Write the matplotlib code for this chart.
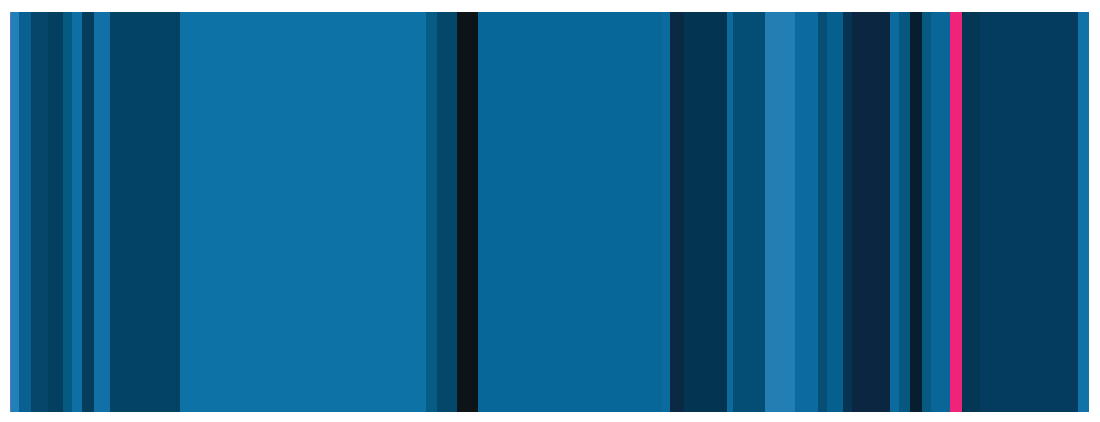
import matplotlib
matplotlib.use("Agg")
import numpy as np
import matplotlib.pyplot as plt

# stripe widths (in plot units) and colours, left to right
widths = [1, 8, 12, 17, 15, 9, 10, 12, 16, 66, 4, 246, 11, 20, 21, 184, 8,
          14, 43, 6, 32, 30, 23, 9, 16, 9, 38, 9, 11, 12, 9, 19, 12, 18, 98, 11]
colors = ["#6370c4", "#2080b8", "#0a6090", "#05466a", "#033f5e", "#065a82",
          "#0d6fa3", "#053e5c", "#1170a5", "#034466", "#044264", "#0d72a5",
          "#065c82", "#03476b", "#0c1417", "#076799", "#0b6a9e", "#0a2a44",
          "#033552", "#0b6a9e", "#044e76", "#237eb3", "#0c6aa0", "#064e73",
          "#06608f", "#063452", "#0b2641", "#0b6a9f", "#075880", "#061e2e",
          "#065a82", "#0a6699", "#f0237a", "#033753", "#033c5e", "#0f72a8"]

starts = np.concatenate([[0], np.cumsum(widths)[:-1]])
total = sum(widths)

fig = plt.figure(figsize=(11, 4.22), dpi=100)
ax = fig.add_axes([10 / 1100, 1 - 412 / 422, 1079 / 1100, 400 / 422])

ax.bar(starts, [1] * len(widths), width=widths, align="edge",
       color=colors, edgecolor="none", linewidth=0)

ax.set_xlim(0, total)
ax.set_ylim(0, 1)
ax.axis("off")

fig.savefig("out.png", dpi=100)
